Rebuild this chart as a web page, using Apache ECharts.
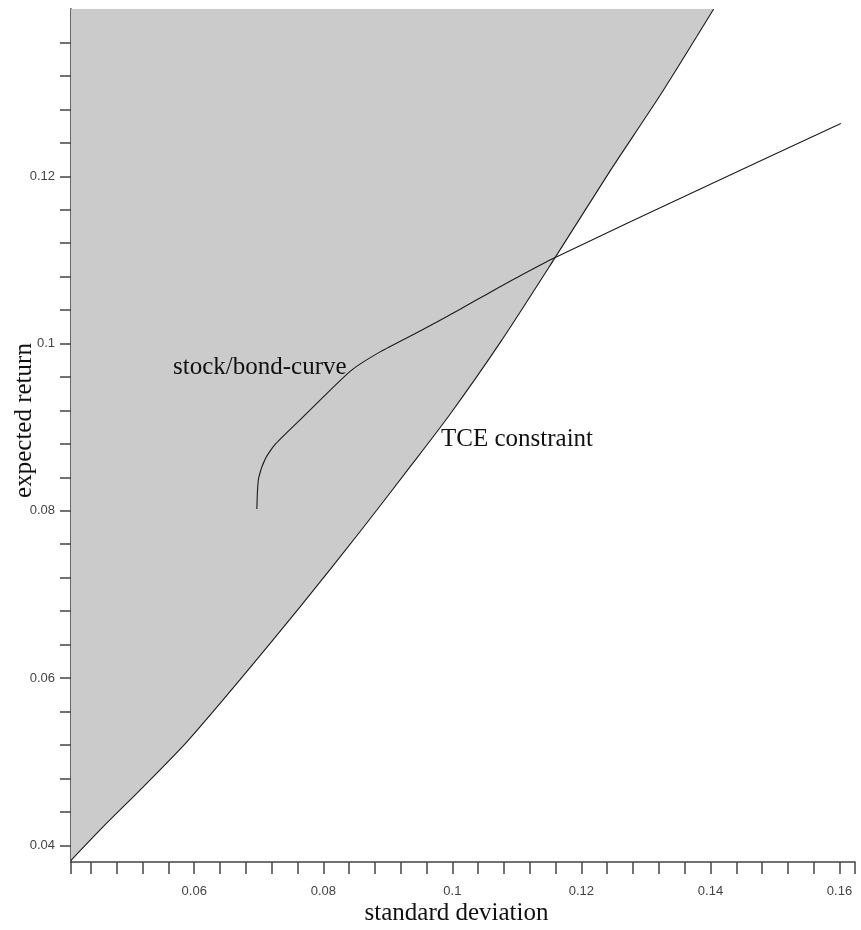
<!DOCTYPE html>
<html>
<head>
<meta charset="utf-8">
<script src="https://cdn.jsdelivr.net/npm/echarts@6/dist/echarts.min.js"></script>
<style>
  html, body { margin: 0; padding: 0; background: #ffffff; }
  #chart { width: 861px; height: 930px; }
</style>
</head>
<body>
<div id="chart"></div>
<script>
// Axis extents and tick positions
const sigmaRange = [0.0409, 0.1624];
const returnRange = [0.038, 0.14];
const sigmaTicks = [0.0409, 0.044, 0.048, 0.052, 0.056, 0.06, 0.064, 0.068, 0.072, 0.076, 0.08,
  0.084, 0.088, 0.092, 0.096, 0.1, 0.104, 0.108, 0.112, 0.116, 0.12, 0.124, 0.128, 0.132,
  0.136, 0.14, 0.144, 0.148, 0.152, 0.156, 0.16, 0.1624];
const sigmaLabels = [0.06, 0.08, 0.1, 0.12, 0.14, 0.16];
const returnTicks = [0.04, 0.044, 0.048, 0.052, 0.056, 0.06, 0.064, 0.068, 0.072, 0.076, 0.08,
  0.084, 0.088, 0.092, 0.096, 0.1, 0.104, 0.108, 0.112, 0.116, 0.12, 0.124, 0.128, 0.132, 0.136];
const returnLabels = [0.04, 0.06, 0.08, 0.1, 0.12];

// TCE constraint boundary (feasible region lies above it)
const tceSigma  = [0.0409, 0.0465, 0.0516, 0.0589, 0.0671, 0.0764, 0.0862, 0.0935, 0.0997,
  0.1074, 0.1157, 0.1245, 0.1323, 0.1405];
const tceReturn = [0.0382, 0.0427, 0.0466, 0.0524, 0.0598, 0.0685, 0.0780, 0.0853, 0.0916,
  0.1001, 0.1100, 0.1207, 0.1298, 0.1400];

// Stock/bond efficient curve
const curveSigma  = [0.0697, 0.0698, 0.0700, 0.0710, 0.0726, 0.0775, 0.0842, 0.0888, 0.0950,
  0.1012, 0.1074, 0.1157, 0.1385, 0.1602];
const curveReturn = [0.0802, 0.0824, 0.0840, 0.0862, 0.0880, 0.0917, 0.0967, 0.0990, 0.1015,
  0.1041, 0.1068, 0.1102, 0.1185, 0.1263];

const fmt = v => String(parseFloat(v.toFixed(3)));
const zip = (a, b) => a.map((v, i) => [v, b[i]]);

const chart = echarts.init(document.getElementById('chart'), null, { renderer: 'canvas' });

chart.setOption({
  backgroundColor: '#ffffff',
  animation: false,
  grid: { left: 71, right: 6, top: 9, bottom: 68, containLabel: false, outerBoundsMode: 'none' },
  xAxis: {
    type: 'value',
    min: sigmaRange[0],
    max: sigmaRange[1],
    name: 'standard deviation',
    nameLocation: 'middle',
    nameGap: 39,
    nameMoveOverlap: false,
    nameTextStyle: { fontFamily: 'Liberation Serif', fontSize: 25, color: '#111', padding: [0, 13, 0, 0] },
    splitLine: { show: false },
    axisLine: { show: true, onZero: false, lineStyle: { color: '#444', width: 1.5 } },
    axisTick: { show: true, inside: false, length: 12, customValues: sigmaTicks,
      lineStyle: { color: '#444', width: 1.5 } },
    axisLabel: { customValues: sigmaLabels, formatter: fmt, margin: 23,
      fontFamily: 'Liberation Sans', fontSize: 13, color: '#444' }
  },
  yAxis: {
    type: 'value',
    min: returnRange[0],
    max: returnRange[1],
    name: 'expected return',
    nameLocation: 'middle',
    nameGap: 34,
    nameRotate: 90,
    nameMoveOverlap: false,
    nameTextStyle: { fontFamily: 'Liberation Serif', fontSize: 25, color: '#111', padding: [0, 0, 0, 30] },
    splitLine: { show: false },
    axisLine: { show: true, onZero: false, lineStyle: { color: '#666', width: 2 } },
    axisTick: { show: true, inside: false, length: 11, customValues: returnTicks,
      lineStyle: { color: '#444', width: 1.5 } },
    axisLabel: { customValues: returnLabels, formatter: fmt, margin: 16,
      fontFamily: 'Liberation Sans', fontSize: 13, color: '#444' }
  },
  series: [
    {
      name: 'TCE constraint',
      type: 'line',
      data: zip(tceSigma, tceReturn),
      symbol: 'none',
      smooth: 0.25,
      lineStyle: { color: '#1a1a1a', width: 1.1 },
      areaStyle: { origin: 'end', color: '#cbcbcb', opacity: 1 },
      z: 2
    },
    {
      name: 'stock/bond-curve',
      type: 'line',
      data: zip(curveSigma, curveReturn),
      symbol: 'none',
      smooth: 0.2,
      lineStyle: { color: '#1a1a1a', width: 1.1 },
      z: 3
    }
  ],
  graphic: [
    { type: 'text', left: 173, top: 355, z: 100,
      style: { text: 'stock/bond-curve', font: '25px "Liberation Serif"', fill: '#111' } },
    { type: 'text', left: 441, top: 427, z: 100,
      style: { text: 'TCE constraint', font: '25px "Liberation Serif"', fill: '#111' } }
  ]
});
</script>
</body>
</html>
